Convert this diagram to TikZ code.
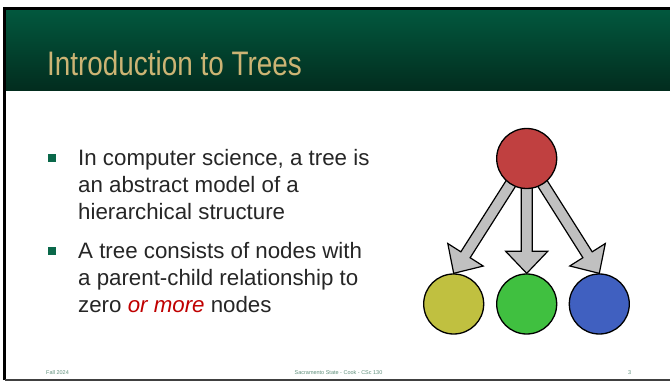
\documentclass[tikz,border=0pt]{standalone}
\usepackage{fontspec}
\setmainfont{Liberation Sans}
\newfontfamily\titlefont[FakeStretch=0.82]{Liberation Sans}
\usetikzlibrary{calc}

\definecolor{hdrtop}{RGB}{2,88,62}
\definecolor{hdrbot}{RGB}{2,44,30}
\definecolor{titlegold}{RGB}{204,180,116}
\definecolor{bulletgreen}{RGB}{10,104,74}
\definecolor{bodytext}{RGB}{38,38,38}
\definecolor{accentred}{RGB}{192,0,0}
\definecolor{footgreen}{RGB}{96,144,124}
\definecolor{rootred}{RGB}{192,64,64}
\definecolor{leafolive}{RGB}{192,192,64}
\definecolor{leafgreen}{RGB}{64,192,64}
\definecolor{leafblue}{RGB}{64,96,192}
\definecolor{arrowgray}{RGB}{192,192,192}

\pgfdeclarelayer{paper}
\pgfdeclarelayer{arrowlayer}
\pgfsetlayers{paper,arrowlayer,main}

% block arrow from #1 to the tip point #2
\newcommand\treearrow[2]{%
  \coordinate (hb) at ($(#2)!22pt!(#1)$);
  \draw[blockarrow]
    ($(#1)!5.5pt!90:(#2)$) -- ($(hb)!5.5pt!90:(#2)$) -- ($(hb)!21pt!90:(#2)$)
    -- (#2)
    -- ($(hb)!21pt!-90:(#2)$) -- ($(hb)!5.5pt!-90:(#2)$) -- ($(#1)!5.5pt!-90:(#2)$)
    -- cycle;}

\begin{document}
\begin{tikzpicture}[x=1pt,y=-1pt,
  treenode/.style={circle, draw=black, line width=1.3pt, minimum size=60pt, inner sep=0pt},
  blockarrow/.style={draw=black, fill=arrowgray, line width=1.2pt, line join=miter},
  bodyline/.style={anchor=base west, inner sep=0pt, text=bodytext, font=\fontsize{22.3}{27}\selectfont},
  bulletsq/.style={fill=bulletgreen, minimum size=8pt, inner sep=0pt},
  footer/.style={inner sep=0pt, text=footgreen, font=\fontsize{5.5}{6}\selectfont}]

\begin{pgfonlayer}{paper}
  \fill[white] (0,0) rectangle (670,382);
\end{pgfonlayer}
\useasboundingbox (0,0) rectangle (670,382);

% slide frame and header band
\shade[top color=hdrtop, bottom color=hdrbot] (5.6,9.6) rectangle (670,91);
\draw[line width=2.2pt] (4.5,380) -- (4.5,8.5) -- (670,8.5);
\draw[line width=1.6pt, black!75] (4.5,380) -- (670,380);

\node[anchor=base west, inner sep=0pt, text=titlegold,
      font=\titlefont\fontsize{34}{40}\selectfont] (title) at (47,76) {Introduction to Trees};

% bullet text
\node[bulletsq] (b1) at (52,158) {};
\node[bodyline] (l1) at (78,166) {In computer science, a tree is};
\node[bodyline] (l2) at (78,192.7) {an abstract model of a};
\node[bodyline] (l3) at (78,219.4) {hierarchical structure};
\node[bulletsq] (b2) at (52,251) {};
\node[bodyline] (l4) at (78,259) {A tree consists of nodes with};
\node[bodyline] (l5) at (78,285.7) {a parent-child relationship to};
\node[bodyline] (l6) at (78,312.4) {zero \textcolor{accentred}{\itshape or more} nodes};

% tree
\node[treenode, fill=rootred] (root) at (526.7,158.5) {};
\node[treenode, fill=leafolive] (lc) at (453.7,304) {};
\node[treenode, fill=leafgreen] (mc) at (526.7,304) {};
\node[treenode, fill=leafblue] (rc) at (599.3,304) {};
\begin{pgfonlayer}{arrowlayer}
  \treearrow{root.center}{lc.north}
  \treearrow{root.center}{mc.north}
  \treearrow{root.center}{rc.north}
\end{pgfonlayer}

% footer
\node[footer, anchor=base west] (fdate) at (46,374) {Fall 2024};
\node[footer, anchor=base] (fcourse) at (338.5,374) {Sacramento State - Cook - CSc 130};
\node[footer, anchor=base west] (fpage) at (628,374) {3};
\end{tikzpicture}
\end{document}
